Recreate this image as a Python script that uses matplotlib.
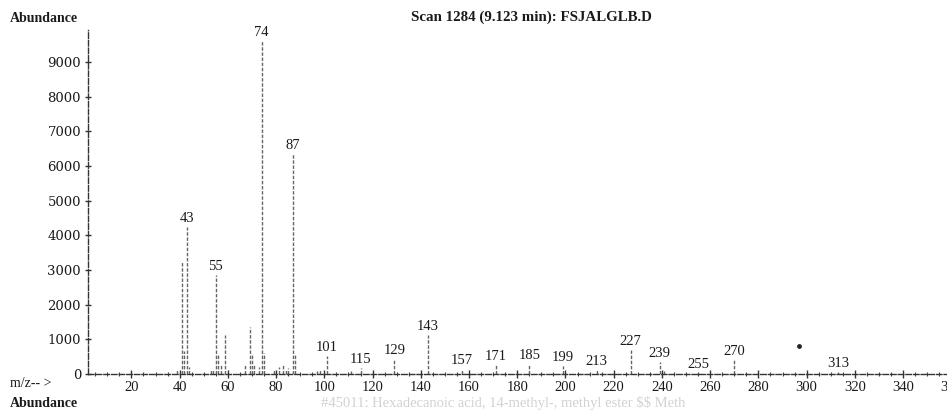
import matplotlib
matplotlib.use("Agg")
import matplotlib.pyplot as plt
from matplotlib.ticker import MultipleLocator

# Mass spectrum of scan 1284
mz = [39, 41, 42, 43, 44, 53, 54, 55, 56, 57, 59, 67, 69, 70, 71, 73, 74, 75,
      79, 81, 83, 84, 85, 87, 88, 97, 98, 101, 111, 115, 129, 143, 157, 171,
      185, 199, 213, 227, 239, 241, 255, 270, 313]
abundance = [150, 3250, 650, 4240, 200, 120, 150, 2850, 550, 300, 1130, 250,
             1350, 550, 300, 200, 9600, 600, 120, 200, 250, 150, 180, 6350,
             550, 100, 150, 520, 90, 175, 440, 1130, 145, 260, 290, 230, 115,
             700, 350, 100, 40, 400, 50]

# Peaks that carry an m/z label
labeled_mz = [43, 55, 74, 87, 101, 115, 129, 143, 157, 171, 185, 199, 213,
              227, 239, 255, 270, 313]

# Stray point above the baseline
stray_mz = [297]
stray_abundance = [810]

x_ticks = list(range(20, 380, 20))
y_ticks = list(range(0, 10000, 1000))

title = "Scan 1284 (9.123 min): FSJALGLB.D"
library_hit = "#45011: Hexadecanoic acid, 14-methyl-, methyl ester \\$\\$ Meth"

serif = ["Liberation Serif", "DejaVu Serif"]
plt.rcParams["font.family"] = serif

W, H = 947, 411
fig = plt.figure(figsize=(W / 100, H / 100), dpi=100)
ax_left, ax_bottom = 88, 374
ax_w, ax_h = 873, 344
ax = fig.add_axes([ax_left / W, (H - ax_bottom) / H, ax_w / W, ax_h / H])
ax.set_xlim(2, 364)
ax.set_ylim(0, 9920)

ax.vlines(mz, 0, abundance, colors="#666666", linewidth=1.0,
          linestyles=(0, (2.5, 1.2)))
ax.scatter(stray_mz, stray_abundance, s=6, color="#222222", zorder=3)

lookup = dict(zip(mz, abundance))
for m in labeled_mz:
    ax.annotate(str(m), (m, lookup[m]), xytext=(0, 1.5),
                textcoords="offset points", ha="center", va="bottom",
                fontsize=10.5, color="#1a1a1a")

for side in ("top", "right"):
    ax.spines[side].set_visible(False)
for side in ("left", "bottom"):
    ax.spines[side].set_linestyle((0, (4, 1.5)))
    ax.spines[side].set_color("#333333")
    ax.spines[side].set_linewidth(1.0)

ax.set_xticks(x_ticks)
ax.xaxis.set_minor_locator(MultipleLocator(5))
ax.set_yticks(y_ticks)
ax.tick_params(axis="x", which="major", direction="inout", length=6,
               width=1.0, color="#333333", labelsize=10.5, pad=2,
               labelcolor="#1a1a1a")
ax.tick_params(axis="x", which="minor", direction="inout", length=3,
               width=0.8, color="#444444")
ax.tick_params(axis="y", which="major", direction="inout", length=4,
               width=1.0, color="#333333", labelsize=9.5, pad=3,
               labelcolor="#1a1a1a")
for lbl in ax.get_yticklabels():
    lbl.set_fontfamily(["DejaVu Serif"])

fig.text(10 / W, 1 - 18 / H, "Abundance", fontsize=10, fontweight="bold",
         ha="left", va="center", color="#1a1a1a")
fig.text(531 / W, 1 - 17 / H, title, fontsize=10.8, fontweight="bold",
         ha="center", va="center", color="#1a1a1a")
fig.text(10 / W, 1 - 383 / H, "m/z-- >", fontsize=10, ha="left",
         va="center", color="#1a1a1a")
fig.text(10 / W, 1 - 403 / H, "Abundance", fontsize=10, fontweight="bold",
         ha="left", va="center", color="#1a1a1a")
fig.text(503 / W, 1 - 403 / H, library_hit, fontsize=10.5, ha="center",
         va="center", color="#d2d2d2")

fig.savefig("out.png", dpi=100)
